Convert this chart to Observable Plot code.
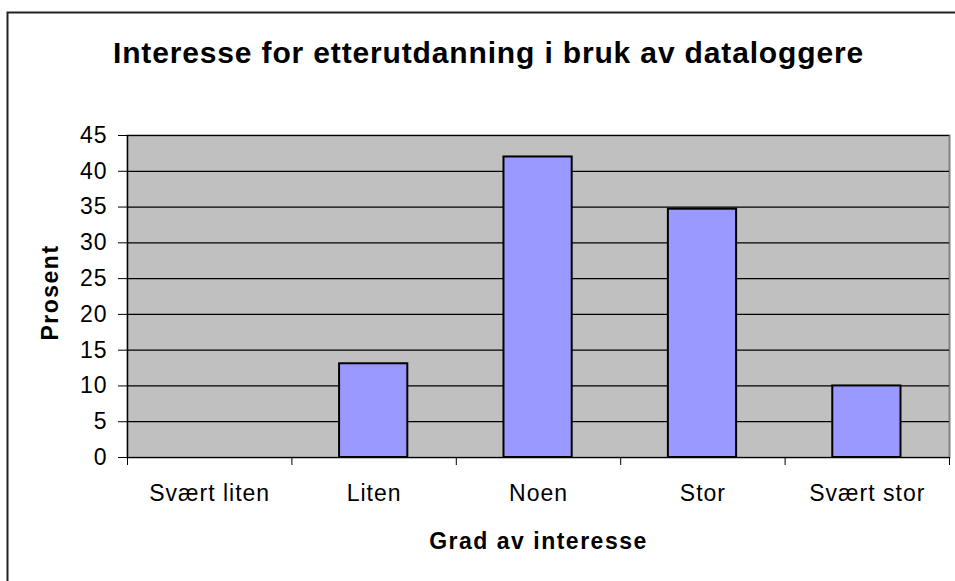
<!DOCTYPE html>
<html>
<head>
<meta charset="utf-8">
<script src="https://cdn.jsdelivr.net/npm/d3@7"></script>
<script src="https://cdn.jsdelivr.net/npm/@observablehq/plot@0.6"></script>
<style>
  html, body { margin: 0; padding: 0; background: #fff; }
  #chart { position: relative; width: 955px; height: 581px; overflow: hidden; }
  #chart svg text { letter-spacing: 1px; }
  #chart svg g[font-weight="bold"] text { letter-spacing: 1.5px; }
  #chart svg g[font-size="30"] text { letter-spacing: 0.85px; }
</style>
</head>
<body>
<div id="chart"></div>
<script>
const title = "Interesse for etterutdanning i bruk av dataloggere";
const xLabel = "Grad av interesse";
const yLabel = "Prosent";
const categories = ["Svært liten", "Liten", "Noen", "Stor", "Svært stor"];
const values = [0, 13.1, 42, 34.7, 10];
const yTicks = [0, 5, 10, 15, 20, 25, 30, 35, 40, 45];

const data = categories.map((c, i) => ({cat: c, i, value: values[i]}));
const boundaries = d3.range(categories.length + 1);

const font = "'Liberation Sans', Arial, sans-serif";

const plot = Plot.plot({
  width: 955,
  height: 581,
  marginLeft: 127,
  marginRight: 6,
  marginTop: 135,
  marginBottom: 124,
  x: {domain: [0, categories.length], axis: null},
  y: {domain: [0, 45], axis: null},
  style: {fontFamily: font, fontSize: "23px", color: "#000", background: "#fff", overflow: "visible"},
  marks: [
    Plot.frame({fill: "#c0c0c0", stroke: "#808080", strokeWidth: 2}),
    Plot.gridY(yTicks, {stroke: "#000", strokeOpacity: 1, strokeWidth: 1.2}),
    Plot.rectY(data, {
      x1: d => d.i + 0.29,
      x2: d => d.i + 0.705,
      y: "value",
      fill: "#9999ff",
      stroke: "#000",
      strokeWidth: 2
    }),
    Plot.ruleX([0], {stroke: "#000", strokeWidth: 1.2}),
    Plot.ruleY([0], {stroke: "#000", strokeWidth: 1.2}),
    Plot.axisY(yTicks, {
      tickSize: 9, tickPadding: 11, label: null, tickFormat: d => String(d),
      fontSize: 23, stroke: "#000", strokeOpacity: 1
    }),
    Plot.axisX(boundaries, {
      tickSize: 8, tickFormat: () => "", label: null, stroke: "#000", strokeOpacity: 1
    }),
    Plot.text(data, {
      x: d => d.i + 0.5, text: "cat", frameAnchor: "bottom", lineAnchor: "middle", dy: 36,
      fontSize: 23, fill: "#000"
    }),
    Plot.text([xLabel], {
      frameAnchor: "bottom", lineAnchor: "middle", dy: 84, fontSize: 23, fontWeight: "bold", fill: "#000"
    }),
    Plot.text([yLabel], {
      frameAnchor: "left", textAnchor: "middle", lineAnchor: "middle", dx: -77, dy: -4, rotate: -90,
      fontSize: 23, fontWeight: "bold", fill: "#000"
    }),
    Plot.text([title], {
      frameAnchor: "top", lineAnchor: "middle", dx: -50, dy: -82.5, fontSize: 30, fontWeight: "bold", fill: "#000"
    })
  ]
});

d3.select(plot).append("rect")
  .attr("x", 7.5).attr("y", 12.5)
  .attr("width", 1000).attr("height", 1000)
  .attr("fill", "none").attr("stroke", "#222").attr("stroke-width", 2);

document.getElementById("chart").appendChild(plot);
</script>
</body>
</html>
